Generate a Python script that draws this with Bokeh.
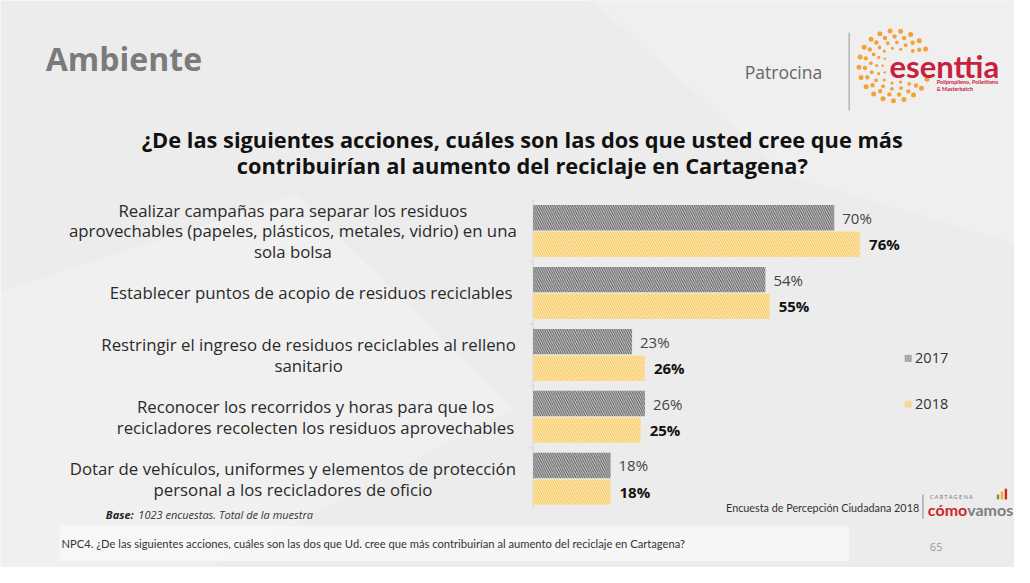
import math
from bokeh.plotting import figure
from bokeh.models import Range1d, ColumnDataSource
from bokeh.core.properties import value
from bokeh.embed import file_html
from bokeh.resources import INLINE

# ---------------- data ----------------
categories = [
    "Realizar campañas para separar los residuos\naprovechables (papeles, plásticos, metales, vidrio) en una\nsola bolsa",
    "Establecer puntos de acopio de residuos reciclables",
    "Restringir el ingreso de residuos reciclables al relleno\nsanitario",
    "Reconocer los recorridos y horas para que los\nrecicladores recolecten los residuos aprovechables",
    "Dotar de vehículos, uniformes y elementos de protección\npersonal a los recicladores de oficio",
]
values_2017 = [70, 54, 23, 26, 18]
values_2018 = [76, 55, 26, 25, 18]
series_names = ["2017", "2018"]
title_lines = [
    "¿De las siguientes acciones, cuáles son las dos que usted cree que más",
    "contribuirían al aumento del reciclaje en Cartagena?",
]

FONT = "Open Sans"

# ------------- page geometry (reference pixel -> data) -------------
W, H = 1014, 567
REF_W, REF_H = 1030, 583
PX_PER_PCT = 4.37
BAR0_PX = 541.0
CAT0_PX = 237.0
CAT_STEP = 63.7


def X(px):
    return (px - BAR0_PX) / PX_PER_PCT


def Y(py):
    return (py - CAT0_PX) / CAT_STEP


p = figure(width=W, height=H,
           x_range=Range1d(X(0), X(REF_W)),
           y_range=Range1d(Y(REF_H), Y(0)),
           output_backend="svg", toolbar_location=None,
           x_axis_location=None, y_axis_location=None,
           min_border=0)
p.grid.visible = False
p.outline_line_color = None
p.background_fill_color = "#ececec"
p.border_fill_color = "#ececec"


def txt(px, py, s, size, color="#333333", style="normal", align="left",
        baseline="middle", font=FONT, alpha=1.0):
    p.text(x=[X(px)], y=[Y(py)], text=[s], text_font=value(font),
           text_font_size=f"{size}px", text_color=color,
           text_font_style=style, text_align=align, text_baseline=baseline,
           text_alpha=alpha)


# subtle paper texture patches
p.patch(x=[X(v) for v in [0, 300, 520, 200, 0]],
        y=[Y(v) for v in [300, 200, 420, 590, 590]],
        fill_color="#f3f3f3", fill_alpha=0.6, line_color=None)
p.patch(x=[X(v) for v in [600, 1030, 1030, 800]],
        y=[Y(v) for v in [0, 0, 250, 180]],
        fill_color="#f2f2f2", fill_alpha=0.6, line_color=None)

# ---------------- header ----------------
txt(46, 60, "Ambiente", 32, color="#7b7b7b", style="bold")
txt(756, 74, "Patrocina", 17.5, color="#666666")
p.segment(x0=[X(862)], y0=[Y(33)], x1=[X(862)], y1=[Y(113)],
          line_color="#999999", line_width=1)

# esenttia logo dots (decoration)
dx, dy, ds = [], [], []
cx, cy = 908, 67
rings = [(12, 10, 2.5), (18, 13, 3.2), (24, 16, 3.8), (30, 19, 4.4), (36, 21, 5.0)]
for k, (r, n, s) in enumerate(rings):
    for j in range(n):
        a = 2 * math.pi * j / n + k * 0.25
        px = cx + r * math.cos(a)
        py = cy + r * math.sin(a)
        if px > cx - 4 and abs(py - cy) < 13:
            continue
        dx.append(X(px)); dy.append(Y(py)); ds.append(s)
p.scatter(x=dx, y=dy, size=ds, fill_color="#f3a23a", line_color=None)
txt(903, 67, "esenttia", 31, color="#c8203e", style="bold", font="Lato")
txt(951, 84, "Polipropileno, Polietileno", 5.5, color="#c8203e", style="bold", font="Lato")
txt(951, 90.5, "& Masterbatch", 5.5, color="#c8203e", style="bold", font="Lato")

# ---------------- title ----------------
txt(530, 143, title_lines[0], 21.8, color="#111111", style="bold", align="center")
txt(530, 170, title_lines[1], 21.8, color="#111111", style="bold", align="center")

# ---------------- bars ----------------
n = len(categories)
idx = list(range(n))
src = ColumnDataSource(dict(
    y17=[i - 0.215 for i in idx], y18=[i + 0.215 for i in idx],
    v17=values_2017, v18=values_2018,
    t17=[f"{v}%" for v in values_2017], t18=[f"{v}%" for v in values_2018],
))

# faint axis line
p.segment(x0=[0], y0=[Y(205)], x1=[0], y1=[Y(522)], line_color="#d4d4d4", line_width=1)
p.segment(x0=[X(537)] * (n - 1), y0=[i + 0.5 for i in idx[:-1]],
          x1=[0] * (n - 1), y1=[i + 0.5 for i in idx[:-1]],
          line_color="#d4d4d4", line_width=1)

p.hbar(y="y17", left=0, right="v17", height=0.41, source=src,
       fill_color="#dcdcdc", line_color=None,
       hatch_pattern="\\", hatch_color="#585858", hatch_scale=4.5, hatch_weight=1.1)
p.hbar(y="y18", left=0, right="v18", height=0.41, source=src,
       fill_color="#fff5d6", line_color=None,
       hatch_pattern="\\", hatch_color="#f6c24e", hatch_scale=4.5, hatch_weight=1.1)

p.text(x="v17", y="y17", text="t17", source=src, x_offset=8,
       text_font=value(FONT), text_font_size="15px", text_color="#444444",
       text_align="left", text_baseline="middle")
p.text(x="v18", y="y18", text="t18", source=src, x_offset=9,
       text_font=value(FONT), text_font_size="15px", text_color="#111111",
       text_font_style="bold", text_align="left", text_baseline="middle")

# category labels (centered lines, block right edge ~525px)
label_centers = [297, 315.5, 313, 320, 297]
line_step = 21 / CAT_STEP
for i, (lab, cxp) in enumerate(zip(categories, label_centers)):
    lines = lab.split("\n")
    m = len(lines)
    for k, ln in enumerate(lines):
        yy = i + (k - (m - 1) / 2) * line_step
        p.text(x=[X(cxp)], y=[yy], text=[ln], text_font=value(FONT),
               text_font_size="16.8px", text_color="#2a2a2a",
               text_align="center", text_baseline="middle")

# legend
leg_y = [368, 415]
for name, ly, fc, hc in zip(series_names, leg_y, ["#e4e4e4", "#fff5d6"], ["#666666", "#f6c04a"]):
    p.rect(x=[X(922)], y=[Y(ly)], width=7, height=7, width_units="screen",
           height_units="screen", fill_color=fc, fill_alpha=0.4, line_color=None,
           hatch_pattern="\\", hatch_color=hc, hatch_scale=3, hatch_weight=0.8)
    txt(929, ly, name, 14.5, color="#333333")

# ---------------- footer ----------------
txt(107, 528, "Base:", 11, color="#222222", style="bold italic")
txt(140, 528, "1023 encuestas. Total de la muestra", 11, color="#333333", style="italic")
txt(737, 521, "Encuesta de Percepción Ciudadana 2018", 10.8, color="#333333", font="Lato")
p.segment(x0=[X(937)], y0=[Y(508)], x1=[X(937)], y1=[Y(533)], line_color="#888888", line_width=1)
txt(944, 511, "C A R T A G E N A", 5.5, color="#777777", font="Lato")
txt(942, 523, "cómo", 16, color="#d2232a", style="bold", font="Lato")
txt(982, 523, "vamos", 16, color="#7d7d7d", style="bold", font="Lato")
p.quad(left=[X(1012), X(1016), X(1020)], right=[X(1014.5), X(1018.5), X(1022.5)],
       top=[Y(508), Y(505), Y(502)], bottom=[Y(513)] * 3,
       fill_color=["#7a9a3a", "#f2b01e", "#d2232a"], line_color=None)

p.quad(left=[X(60)], right=[X(862)], top=[Y(540)], bottom=[Y(576)],
       fill_color="#f7f7f7", fill_alpha=0.9, line_color=None)
txt(62, 558, "NPC4. ¿De las siguientes acciones, cuáles son las dos que Ud. cree que más contribuirían al aumento del reciclaje en Cartagena?",
    11.2, color="#333333", font="Lato")
txt(944, 562, "65", 11, color="#999999")

open("out.html", "w").write(file_html(p, INLINE))
